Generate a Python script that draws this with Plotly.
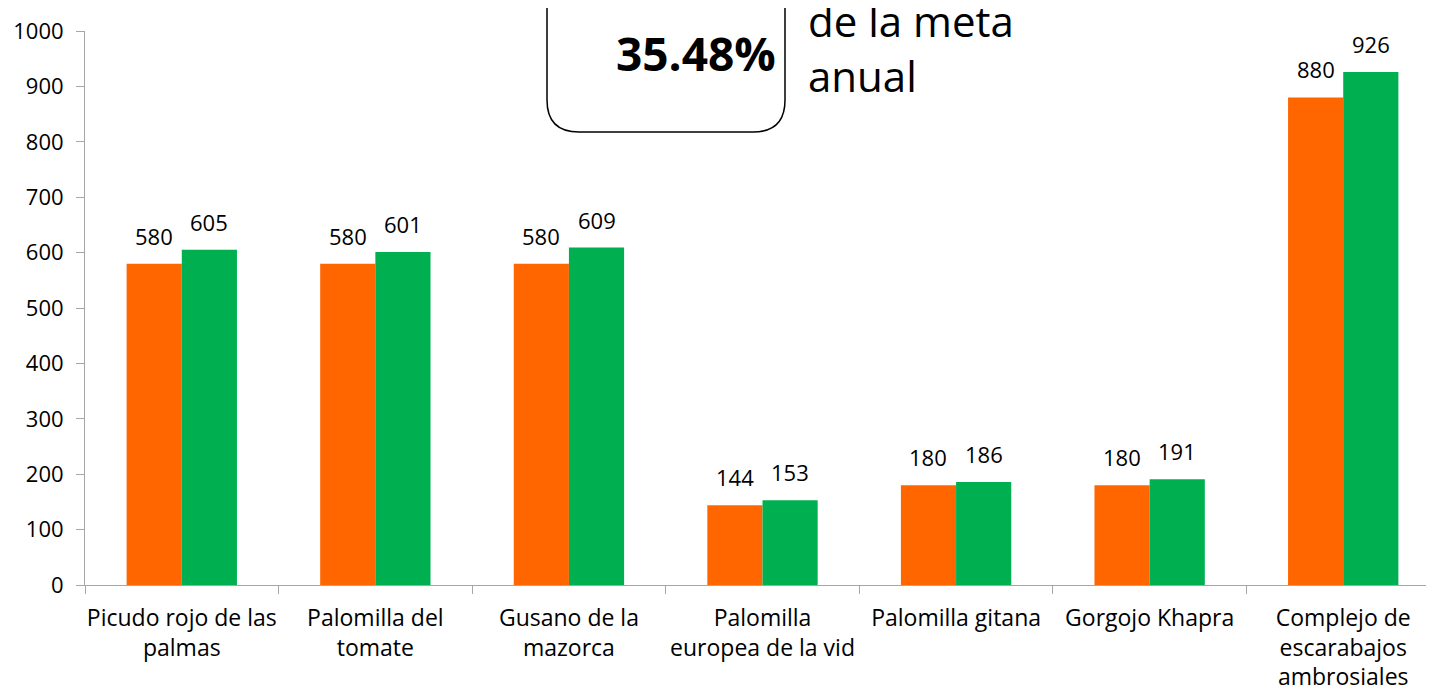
import plotly.graph_objects as go

categories = ["Picudo rojo de las<br>palmas", "Palomilla del<br>tomate", "Gusano de la<br>mazorca",
              "Palomilla<br>europea de la vid", "Palomilla gitana", "Gorgojo Khapra",
              "Complejo de<br>escarabajos<br>ambrosiales"]
meta = [580, 580, 580, 144, 180, 180, 880]
realizado = [605, 601, 609, 153, 186, 191, 926]
y_ticks = [0, 100, 200, 300, 400, 500, 600, 700, 800, 900, 1000]
percent_text = "35.48%"
side_text = ["de la meta", "anual"]

W, H = 1434, 691
OFF = 8  # page body margin
# plot area in page pixels
PL, PT, PB, PR = 85, 31, 585, 1440
ML, MT = PL - OFF, PT - OFF
MB = H - (PB - OFF)
MR = W - (PR - OFF)
PW, PH = PR - PL, PB - PT

def px(x):
    return (x - PL) / PW

def py(y):
    return (PB - y) / PH

FONT = "Open Sans, sans-serif"
ORANGE, GREEN = "#FF6600", "#00B050"
BAR_PX = 55.3

fig = go.Figure()
fig.add_trace(go.Bar(x=categories, y=meta, marker_color=ORANGE, marker_line_width=0))
fig.add_trace(go.Bar(x=categories, y=realizado, marker_color=GREEN, marker_line_width=0))

for c, v in zip(categories, meta):
    fig.add_annotation(x=c, y=v, xref="x", yref="y", text=str(v), showarrow=False,
                       xshift=-BAR_PX / 2, yshift=11, yanchor="bottom", xanchor="center",
                       font=dict(size=22, color="#000000", family=FONT))
for c, v in zip(categories, realizado):
    fig.add_annotation(x=c, y=v, xref="x", yref="y", text=str(v), showarrow=False,
                       xshift=BAR_PX / 2, yshift=11, yanchor="bottom", xanchor="center",
                       font=dict(size=22, color="#000000", family=FONT))

# rounded box
x0, x1, yb, r = 547, 785, 132, 32
path = (f"M {px(x0)},{py(-5)} L {px(x0)},{py(yb - r)} Q {px(x0)},{py(yb)} {px(x0 + r)},{py(yb)} "
        f"L {px(x1 - r)},{py(yb)} Q {px(x1)},{py(yb)} {px(x1)},{py(yb - r)} L {px(x1)},{py(-5)}")
fig.add_shape(type="path", path=path, xref="paper", yref="paper",
              line=dict(color="#000000", width=1.5), layer="above")

fig.add_annotation(x=px(778), y=py(53), xref="paper", yref="paper", text=f"<b>{percent_text}</b>",
                   showarrow=False, xanchor="right", yanchor="middle",
                   font=dict(size=46, color="#000000", family=FONT))
fig.add_annotation(x=px(806), y=py(21), xref="paper", yref="paper", text=side_text[0],
                   showarrow=False, xanchor="left", yanchor="middle",
                   font=dict(size=42, color="#000000", family=FONT))
fig.add_annotation(x=px(806), y=py(75), xref="paper", yref="paper", text=side_text[1],
                   showarrow=False, xanchor="left", yanchor="middle",
                   font=dict(size=42, color="#000000", family=FONT))

fig.update_layout(
    width=W, height=H,
    margin=dict(l=ML, r=MR, t=MT, b=MB, autoexpand=False),
    paper_bgcolor="#FFFFFF", plot_bgcolor="#FFFFFF",
    barmode="group", bargap=0.43, bargroupgap=0,
    showlegend=False,
    font=dict(family=FONT, size=22, color="#000000"),
    xaxis=dict(range=[-0.5, 6.5], showline=True, linecolor="#A6A6A6", linewidth=1,
               ticks="outside", tickson="boundaries", ticklen=8, tickcolor="#A6A6A6",
               tickangle=0, ticklabelstandoff=12, showgrid=False,
               tickfont=dict(size=23, family=FONT, color="#000000")),
    yaxis=dict(range=[0, 1000], tickvals=y_ticks, showline=True, linecolor="#A6A6A6", linewidth=1,
               ticks="outside", ticklen=8, tickcolor="#A6A6A6", ticklabelstandoff=8,
               showgrid=False, zeroline=False,
               tickfont=dict(size=22, family=FONT, color="#000000")),
)

fig.write_html("out.html")
